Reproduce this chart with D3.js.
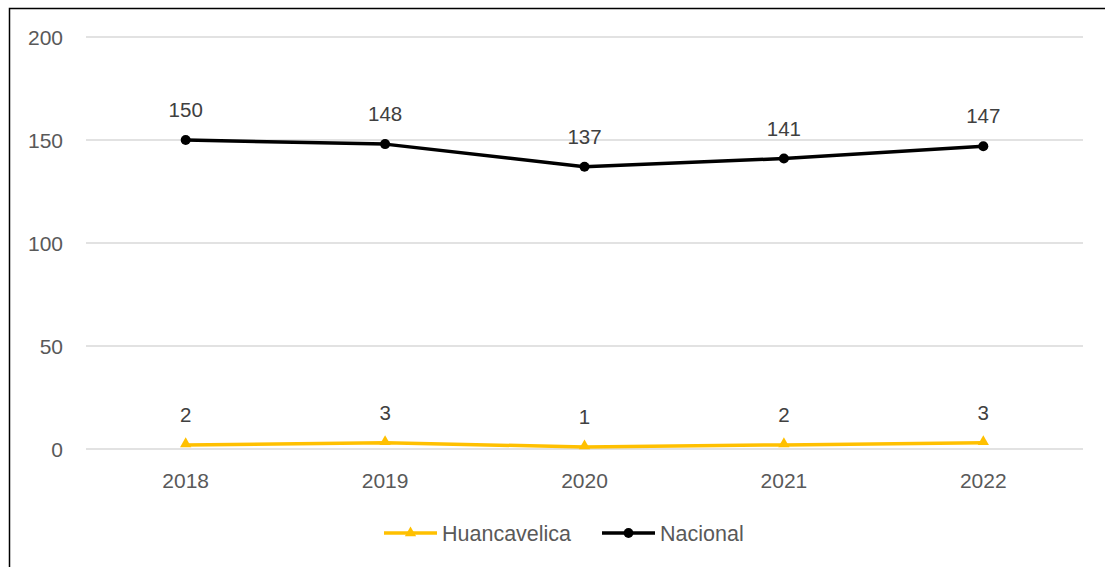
<!DOCTYPE html>
<html>
<head>
<meta charset="utf-8">
<script src="https://cdn.jsdelivr.net/npm/d3@7"></script>
<style>
  body { margin: 0; background: #fff; }
  svg { display: block; font-family: "Liberation Sans", Arial, sans-serif; }
</style>
</head>
<body>
<div id="chart"></div>
<script>
// data
var years = ["2018", "2019", "2020", "2021", "2022"];
var huancavelica = [2, 3, 1, 2, 3];
var nacional = [150, 148, 137, 141, 147];
var yTicks = [0, 50, 100, 150, 200];

var width = 1105, height = 567;
var plotLeft = 86, plotRight = 1083, plotTop = 37, plotBottom = 449;

var svg = d3.select("#chart").append("svg")
    .attr("width", width)
    .attr("height", height);

// chart frame (only top + left visible in the picture)
svg.append("rect")
    .attr("x", 9.5).attr("y", 8.5)
    .attr("width", 1200).attr("height", 700)
    .attr("fill", "none")
    .attr("stroke", "#000")
    .attr("stroke-width", 1.5);

var x = d3.scalePoint().domain(years).range([plotLeft, plotRight]).padding(0.5);
var y = d3.scaleLinear().domain([0, 200]).range([plotBottom, plotTop]);

// gridlines
svg.append("g").selectAll("line")
    .data(yTicks)
    .join("line")
    .attr("x1", plotLeft).attr("x2", plotRight)
    .attr("y1", d => y(d)).attr("y2", d => y(d))
    .attr("stroke", "#d9d9d9")
    .attr("stroke-width", 1.3);

// y labels
svg.append("g").selectAll("text")
    .data(yTicks)
    .join("text")
    .attr("x", 63)
    .attr("y", d => y(d))
    .attr("dy", "0.36em")
    .attr("text-anchor", "end")
    .attr("fill", "#595959")
    .style("font-size", "21px")
    .text(d => d);

// x labels
svg.append("g").selectAll("text")
    .data(years)
    .join("text")
    .attr("x", d => x(d))
    .attr("y", 488)
    .attr("text-anchor", "middle")
    .attr("fill", "#595959")
    .style("font-size", "21px")
    .text(d => d);

var series = [
    { name: "Huancavelica", values: huancavelica, color: "#FFC000", marker: "triangle" },
    { name: "Nacional", values: nacional, color: "#000000", marker: "circle" }
];

var line = d3.line()
    .x((d, i) => x(years[i]))
    .y(d => y(d));

var tri = d3.symbol().type(d3.symbolTriangle).size(55);

series.forEach(function(s) {
    var g = svg.append("g");
    g.append("path")
        .datum(s.values)
        .attr("d", line)
        .attr("fill", "none")
        .attr("stroke", s.color)
        .attr("stroke-width", 3.5)
        .attr("stroke-linejoin", "round");

    if (s.marker == "circle") {
        g.selectAll("circle")
            .data(s.values)
            .join("circle")
            .attr("cx", (d, i) => x(years[i]))
            .attr("cy", d => y(d))
            .attr("r", 5)
            .attr("fill", s.color);
    } else {
        g.selectAll("path.m")
            .data(s.values)
            .join("path")
            .attr("class", "m")
            .attr("d", tri)
            .attr("transform", (d, i) => "translate(" + x(years[i]) + "," + (y(d) - 1) + ")")
            .attr("fill", s.color);
    }

    // data labels
    g.selectAll("text")
        .data(s.values)
        .join("text")
        .attr("x", (d, i) => x(years[i]))
        .attr("y", d => y(d) - 23)
        .attr("text-anchor", "middle")
        .attr("fill", "#404040")
        .style("font-size", "20.5px")
        .text(d => d);
});

// legend
var legendX = [384, 602];
var legend = svg.append("g").selectAll("g")
    .data(series)
    .join("g")
    .attr("transform", (d, i) => "translate(" + legendX[i] + ",533)");

legend.append("line")
    .attr("x1", 0).attr("x2", 53)
    .attr("stroke", d => d.color)
    .attr("stroke-width", 3.5);

legend.append("path")
    .attr("d", function(d) {
        return d.marker == "circle" ? d3.symbol().type(d3.symbolCircle).size(75)() : tri();
    })
    .attr("transform", "translate(26.5,0)")
    .attr("fill", d => d.color);

legend.append("text")
    .attr("x", 58)
    .attr("dy", "0.36em")
    .attr("fill", "#595959")
    .style("font-size", "21.5px")
    .text(d => d.name);
</script>
</body>
</html>
